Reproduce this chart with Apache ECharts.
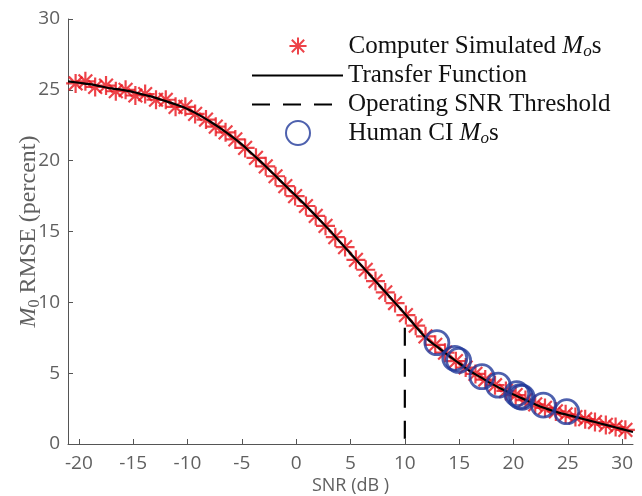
<!DOCTYPE html>
<html>
<head>
<meta charset="utf-8">
<script src="https://cdn.jsdelivr.net/npm/echarts@6/dist/echarts.min.js"></script>
<style>html,body{margin:0;padding:0;background:#fff;}#c{width:642px;height:496px;}</style>
</head>
<body>
<div id="c"></div>
<script>
// Transfer function
const curveX = [-21,-20,-19,-18,-17,-16,-15,-14,-13,-12,-11,-10,-9,-8,-7,-6,-5,-4,-3,-2,-1,0,1,2,3,4,5,6,7,8,9,10,11,12,13,14,15,16,17,18,19,20,21,22,23,24,25,26,27,28,29,30,31];
const curveY = [25.6,25.5,25.4,25.25,25.1,25.0,24.85,24.65,24.45,24.2,23.95,23.65,23.25,22.8,22.3,21.75,21.15,20.45,19.75,19.0,18.25,17.5,16.75,15.95,15.15,14.3,13.45,12.6,11.75,10.9,10.05,9.2,8.3,7.45,6.85,6.25,5.7,5.15,4.7,4.25,3.85,3.5,3.15,2.8,2.5,2.25,2.05,1.85,1.65,1.45,1.25,1.05,0.85];
// Computer simulated Mos
const simX = [-20.3,-19.4,-18.5,-17.5,-16.6,-15.7,-14.8,-13.9,-12.9,-12.0,-11.1,-10.2,-9.3,-8.3,-7.4,-6.5,-5.6,-4.7,-3.7,-2.8,-1.9,-1.0,-0.1,0.9,1.8,2.7,3.6,4.5,5.5,6.4,7.3,8.2,9.1,10.1,11.0,11.9,12.8,13.7,14.7,15.6,16.5,17.4,18.3,19.3,20.2,21.1,22.0,22.9,23.9,24.8,25.7,26.6,27.5,28.5,29.4,30.3];
const simY = [25.45,25.6,25.2,25.3,24.9,25.0,24.6,24.7,24.3,24.3,23.8,23.8,23.3,22.9,22.4,22.0,21.5,20.9,20.2,19.6,18.9,18.2,17.5,16.8,16.1,15.4,14.6,13.9,13.0,12.3,11.5,10.7,9.95,9.1,8.35,7.6,7.0,6.45,5.85,5.4,4.95,4.55,4.15,3.75,3.45,3.1,2.8,2.55,2.3,2.1,1.9,1.75,1.55,1.35,1.2,1.0];
// Human CI Mos
const humanX = [12.95,14.6,14.95,17.1,18.6,20.3,20.6,20.8,22.75,24.9];
const humanY = [7.15,6.05,5.9,4.75,4.15,3.55,3.35,3.3,2.75,2.28];
// Operating SNR threshold
const threshX = [10,10];
const threshY = [8.2,0];
// Ticks
const xTicks = [-20,-15,-10,-5,0,5,10,15,20,25,30];
const yTicks = [0,5,10,15,20,25,30];
// Legend entries
const legendNames = ['sim','tf','th','hu'];
const legendLabels = {
  sim:'{n|Computer Simulated }{i|M}{s|o}{n|s}',
  tf:'{n|Transfer Function}',
  th:'{n|Operating SNR Threshold}',
  hu:'{n|Human CI }{i|M}{s|o}{n|s}'
};

const zip = (a,b) => a.map((v,i)=>[v,b[i]]);
const RED = '#e8141c', BLUE = '#22399a', GRAY = '#606060';
const star = 'path://M0,-10L0,10M-10,0L10,0M-7.2,-7.2L7.2,7.2M-7.2,7.2L7.2,-7.2';
const starLegend = 'path://M0,-10L0,10M-10,0L10,0M-7.2,-7.2L7.2,7.2M-7.2,7.2L7.2,-7.2M-14,-14M14,14';
const hidden = {color:'rgba(0,0,0,0)', borderColor:'rgba(0,0,0,0)', borderWidth:0, opacity:0};
const legendTops = [33,63,92,120];
const legendLefts = [285,251,251,285];

const legendText = {fontFamily:'Liberation Serif', fontSize:25, color:'#111',
  rich:{
    n:{fontFamily:'Liberation Serif', fontSize:25, color:'#111', lineHeight:28},
    i:{fontFamily:'Liberation Serif', fontStyle:'italic', fontSize:25, color:'#111', lineHeight:28},
    s:{fontFamily:'Liberation Serif', fontStyle:'italic', fontSize:17, color:'#111', lineHeight:14, verticalAlign:'bottom'}
  }};
const legends = legendNames.map((nm,k)=>({
  orient:'vertical', left:legendLefts[k], top:legendTops[k], itemWidth:91, itemHeight:24, padding:0,
  selectedMode:false,
  textStyle:legendText,
  formatter:(name)=>legendLabels[name],
  data:[nm==='sim' ? {name:nm, icon:starLegend} : (nm==='tf'||nm==='th') ? {name:nm, itemStyle:hidden} : {name:nm}]
}));

const chart = echarts.init(document.getElementById('c'), null, {renderer:'canvas'});
chart.setOption({
  animation:false,
  backgroundColor:'#fff',
  grid:{left:68,right:9,top:19,bottom:52,containLabel:false, outerBoundsMode:'none'},
  xAxis:{
    type:'value', min:-21, max:31,
    name:'SNR (dB )', nameLocation:'middle', nameGap:33, nameMoveOverlap:false,
    nameTextStyle:{fontFamily:'Open Sans', fontSize:18, color:GRAY},
    axisLine:{show:true, onZero:false, lineStyle:{color:'#555', width:1}},
    axisTick:{show:true, inside:true, length:5, customValues:xTicks, lineStyle:{color:'#555'}},
    axisLabel:{customValues:xTicks, fontFamily:'Open Sans', fontSize:19, color:GRAY, margin:10},
    splitLine:{show:false}
  },
  yAxis:{
    type:'value', min:0, max:30, interval:5,
    name:'{i|M}{s|0} RMSE (percent)', nameLocation:'middle', nameGap:25, nameMoveOverlap:false,
    nameTextStyle:{fontFamily:'Liberation Serif', fontSize:24, color:GRAY,
      rich:{
        i:{fontFamily:'Liberation Serif', fontStyle:'italic', fontSize:24, color:GRAY, lineHeight:28},
        s:{fontFamily:'Liberation Serif', fontSize:16, color:GRAY, lineHeight:13, verticalAlign:'bottom'}
      }},
    axisLine:{show:true, onZero:false, lineStyle:{color:'#555', width:1}},
    axisTick:{show:true, inside:true, length:5, lineStyle:{color:'#555'}},
    axisLabel:{fontFamily:'Open Sans', fontSize:19, color:GRAY, margin:8},
    splitLine:{show:false}
  },
  legend:legends,
  series:[
    {name:'sim', type:'scatter', data:zip(simX,simY), symbol:star, symbolSize:19,
      itemStyle:{color:'rgba(0,0,0,0)', borderColor:RED, borderWidth:2.2}, z:2},
    {name:'tf', type:'line', data:zip(curveX,curveY), smooth:true, symbol:'none', showSymbol:false,
      lineStyle:{color:'#000', width:2.2}, itemStyle:{color:'#000'}, z:3},
    {name:'th', type:'line', data:zip(threshX,threshY), symbol:'none', showSymbol:false,
      lineStyle:{color:'#000', width:2.2, type:[18,13]}, itemStyle:{color:'#000'}, z:3},
    {name:'hu', type:'scatter', data:zip(humanX,humanY), symbol:'circle', symbolSize:24,
      itemStyle:{color:'rgba(0,0,0,0)', borderColor:BLUE, borderWidth:2.8}, z:4}
  ]
});
</script>
</body>
</html>
